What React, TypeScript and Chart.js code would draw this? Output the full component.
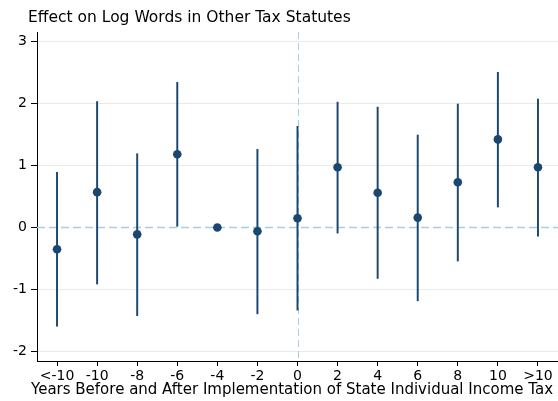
import React, { useEffect, useRef } from "react";
import { Chart, registerables } from "chart.js";

Chart.register(...registerables);

const titleText = "Effect on Log Words in Other Tax Statutes";
const xTitle = "Years Before and After Implementation of State Individual Income Tax";
const categories = ["<-10", "-10", "-8", "-6", "-4", "-2", "0", "2", "4", "6", "8", "10", ">10"];
const estimates = [-0.35, 0.57, -0.11, 1.18, 0, -0.06, 0.15, 0.97, 0.56, 0.16, 0.73, 1.42, 0.97];
const lower = [-1.59, -0.91, -1.42, 0.02, null, -1.39, -1.33, -0.09, -0.82, -1.18, -0.54, 0.33, -0.14];
const upper = [0.89, 2.03, 1.19, 2.34, null, 1.26, 1.63, 2.02, 1.94, 1.49, 1.99, 2.5, 2.07];
const eventCategory = "0";

const FONT = "'DejaVu Sans', sans-serif";
const NAVY = "#1a476f";
const REF = "#a6cfe0";

const refLines = {
  id: "refLines",
  beforeDatasetsDraw(chart: any) {
    const { ctx, chartArea, scales } = chart;
    const y0 = scales.y.getPixelForValue(0);
    const x0 = scales.x.getPixelForValue(categories.indexOf(eventCategory));
    ctx.save();
    ctx.strokeStyle = REF;
    ctx.setLineDash([8, 4]);
    ctx.lineWidth = 1.5;
    ctx.beginPath();
    ctx.moveTo(chartArea.left, y0);
    ctx.lineTo(chartArea.right, y0);
    ctx.stroke();
    ctx.setLineDash([7, 4]);
    ctx.lineWidth = 1;
    ctx.beginPath();
    ctx.moveTo(Math.round(x0) + 0.5, chartArea.top);
    ctx.lineTo(Math.round(x0) + 0.5, chartArea.bottom);
    ctx.stroke();
    ctx.restore();
  },
};

const texts = {
  id: "texts",
  afterDraw(chart: any) {
    const { ctx } = chart;
    ctx.save();
    ctx.fillStyle = "#000";
    ctx.textBaseline = "middle";
    ctx.font = `15.5px ${FONT}`;
    ctx.textAlign = "left";
    ctx.fillText(titleText, 28, 18);
    ctx.font = `15px ${FONT}`;
    ctx.textAlign = "center";
    ctx.fillText(xTitle, 292, 390);
    ctx.restore();
  },
};

export default function App() {
  const ref = useRef<HTMLCanvasElement | null>(null);
  useEffect(() => {
    document.body.style.margin = "0";
    const ci = upper.map((u, i) => (u === null || lower[i] === null ? null : [lower[i], u]));
    const chart = new Chart(ref.current as HTMLCanvasElement, {
      type: "bar",
      data: {
        labels: categories,
        datasets: [
          {
            type: "bar",
            data: ci as any,
            backgroundColor: NAVY,
            barThickness: 1.3,
            borderWidth: 0,
            order: 2,
          },
          {
            type: "line",
            data: estimates,
            showLine: false,
            pointRadius: 4.3,
            pointBackgroundColor: NAVY,
            pointBorderWidth: 0,
            borderColor: NAVY,
            order: 1,
          } as any,
        ],
      },
      options: {
        animation: false,
        responsive: false,
        maintainAspectRatio: false,
        layout: { autoPadding: false, padding: { top: 32, left: 0, right: 0, bottom: 0 } },
        plugins: { legend: { display: false }, tooltip: { enabled: false }, title: { display: false } },
        scales: {
          x: {
            type: "category",
            offset: true,
            grid: { offset: false, drawOnChartArea: false, drawTicks: true, tickLength: 5, tickColor: "#000" },
            border: { display: true, color: "#000", width: 1 },
            ticks: { color: "#000", font: { family: FONT, size: 14 }, padding: 2, maxRotation: 0, autoSkip: false },
            title: { display: false },
            afterFit(scale: any) {
              scale.height = 40;
              scale.paddingLeft = 0;
              scale.paddingRight = 0;
            },
          },
          y: {
            type: "linear",
            min: -2.15,
            max: 3.15,
            grid: {
              color: (c: any) => (c.tick && c.tick.value === 0 ? "rgba(0,0,0,0)" : "#eaeaea"),
              tickLength: 6,
              tickColor: "#000",
            },
            border: { display: true, color: "#000", width: 1 },
            ticks: { stepSize: 1, includeBounds: false, color: "#000", font: { family: FONT, size: 14 }, padding: 4 },
            afterFit(scale: any) {
              scale.width = 37;
              scale.paddingTop = 0;
              scale.paddingBottom = 0;
            },
          },
        },
      },
      plugins: [refLines, texts],
    });
    return () => chart.destroy();
  }, []);
  return (
    <div style={{ width: 558, height: 401 }}>
      <canvas ref={ref} width={558} height={401} style={{ width: 558, height: 401 }} />
    </div>
  );
}
